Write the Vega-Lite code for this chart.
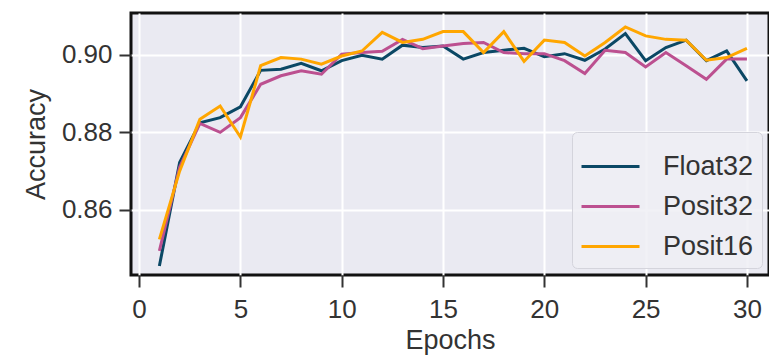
{
  "$schema": "https://vega.github.io/schema/vega-lite/v6.json",
  "width": 638,
  "height": 262,
  "autosize": {"type": "none"},
  "padding": {"left": 131, "top": 13, "right": 0, "bottom": 83},
  "background": "white",
  "config": {
    "font": "Liberation Sans",
    "view": {"fill": "#eaeaf2", "stroke": "#111111", "strokeWidth": 3},
    "axis": {
      "grid": true,
      "gridColor": "white",
      "gridWidth": 2,
      "domain": false,
      "tickColor": "#333333",
      "tickWidth": 2,
      "tickSize": 12,
      "labelFont": "Liberation Sans",
      "labelFontSize": 26,
      "labelColor": "#333333",
      "titleFont": "Liberation Sans",
      "titleFontSize": 27,
      "titleFontWeight": "normal",
      "titleColor": "#333333"
    },
    "legend": {
      "labelFont": "Liberation Sans",
      "labelFontSize": 27,
      "labelColor": "#333333"
    }
  },
  "data": {
    "values": [
      {"epoch": 1, "Float32": 0.8455, "Posit32": 0.8494, "Posit16": 0.8524},
      {"epoch": 2, "Float32": 0.8722, "Posit32": 0.8710, "Posit16": 0.8700},
      {"epoch": 3, "Float32": 0.8825, "Posit32": 0.8823, "Posit16": 0.8834},
      {"epoch": 4, "Float32": 0.8838, "Posit32": 0.8800, "Posit16": 0.8868},
      {"epoch": 5, "Float32": 0.8866, "Posit32": 0.8838, "Posit16": 0.8788},
      {"epoch": 6, "Float32": 0.8960, "Posit32": 0.8924, "Posit16": 0.8972},
      {"epoch": 7, "Float32": 0.8963, "Posit32": 0.8946, "Posit16": 0.8993},
      {"epoch": 8, "Float32": 0.8978, "Posit32": 0.8959, "Posit16": 0.8989},
      {"epoch": 9, "Float32": 0.8959, "Posit32": 0.8950, "Posit16": 0.8976},
      {"epoch": 10, "Float32": 0.8985, "Posit32": 0.9002, "Posit16": 0.8997},
      {"epoch": 11, "Float32": 0.8999, "Posit32": 0.9006, "Posit16": 0.9010},
      {"epoch": 12, "Float32": 0.8989, "Posit32": 0.9009, "Posit16": 0.9058},
      {"epoch": 13, "Float32": 0.9025, "Posit32": 0.9040, "Posit16": 0.9032},
      {"epoch": 14, "Float32": 0.9019, "Posit32": 0.9016, "Posit16": 0.9040},
      {"epoch": 15, "Float32": 0.9023, "Posit32": 0.9023, "Posit16": 0.9060},
      {"epoch": 16, "Float32": 0.8989, "Posit32": 0.9029, "Posit16": 0.9060},
      {"epoch": 17, "Float32": 0.9006, "Posit32": 0.9032, "Posit16": 0.9006},
      {"epoch": 18, "Float32": 0.9012, "Posit32": 0.9006, "Posit16": 0.9060},
      {"epoch": 19, "Float32": 0.9017, "Posit32": 0.9003, "Posit16": 0.8983},
      {"epoch": 20, "Float32": 0.8995, "Posit32": 0.9003, "Posit16": 0.9038},
      {"epoch": 21, "Float32": 0.9003, "Posit32": 0.8985, "Posit16": 0.9032},
      {"epoch": 22, "Float32": 0.8986, "Posit32": 0.8952, "Posit16": 0.8997},
      {"epoch": 23, "Float32": 0.9015, "Posit32": 0.9012, "Posit16": 0.9032},
      {"epoch": 24, "Float32": 0.9055, "Posit32": 0.9006, "Posit16": 0.9072},
      {"epoch": 25, "Float32": 0.8985, "Posit32": 0.8969, "Posit16": 0.9049},
      {"epoch": 26, "Float32": 0.9019, "Posit32": 0.9006, "Posit16": 0.9040},
      {"epoch": 27, "Float32": 0.9038, "Posit32": 0.8972, "Posit16": 0.9038},
      {"epoch": 28, "Float32": 0.8985, "Posit32": 0.8937, "Posit16": 0.8986},
      {"epoch": 29, "Float32": 0.9010, "Posit32": 0.8989, "Posit16": 0.8993},
      {"epoch": 30, "Float32": 0.8933, "Posit32": 0.8989, "Posit16": 0.9017}
    ]
  },
  "transform": [
    {"fold": ["Float32", "Posit32", "Posit16"], "as": ["series", "accuracy"]}
  ],
  "mark": {"type": "line", "strokeWidth": 3, "clip": true},
  "encoding": {
    "x": {
      "field": "epoch",
      "type": "quantitative",
      "title": "Epochs",
      "scale": {"domain": [-0.4, 31.09], "nice": false, "zero": false},
      "axis": {"values": [0, 5, 10, 15, 20, 25, 30], "labelPadding": 9, "titlePadding": 5}
    },
    "y": {
      "field": "accuracy",
      "type": "quantitative",
      "title": "Accuracy",
      "scale": {"domain": [0.8432, 0.9108], "nice": false, "zero": false},
      "axis": {"values": [0.86, 0.88, 0.90], "format": ".2f", "labelPadding": 7, "titlePadding": 11}
    },
    "color": {
      "field": "series",
      "type": "nominal",
      "title": null,
      "scale": {"domain": ["Float32", "Posit32", "Posit16"], "range": ["#0b4865", "#bc5090", "#ffa600"]},
      "legend": {
        "orient": "bottom-right",
        "offset": 7,
        "symbolType": "M-1,0H1.32",
        "symbolSize": 2500,
        "symbolStrokeWidth": 3,
        "labelOffset": 30,
        "rowPadding": 0,
        "padding": 8,
        "fillColor": "rgba(238,238,245,0.85)",
        "strokeColor": "#d4d4dc",
        "cornerRadius": 5
      }
    }
  }
}
